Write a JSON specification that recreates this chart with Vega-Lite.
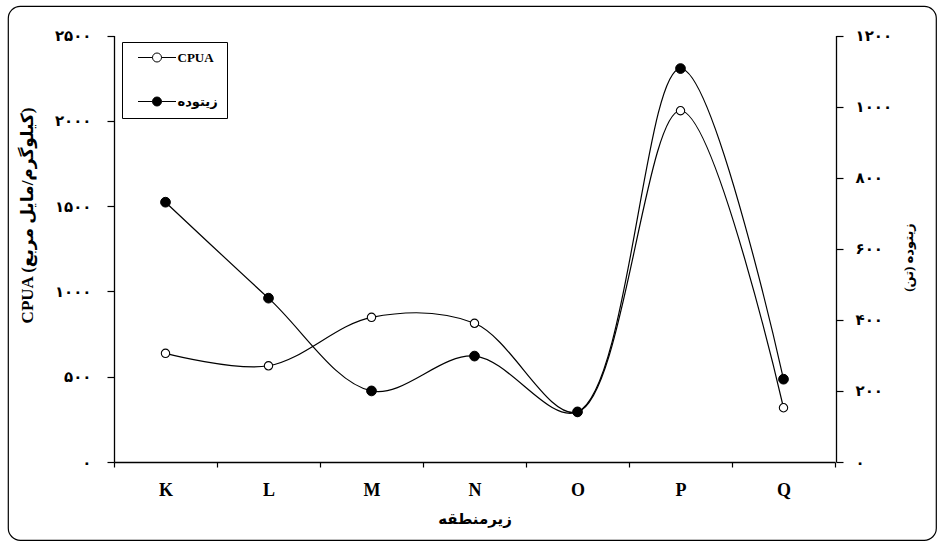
{
  "$schema": "https://vega.github.io/schema/vega-lite/v6.json",
  "width": 928,
  "height": 534,
  "autosize": {"type": "none"},
  "padding": {"left": 8, "top": 6, "right": 3, "bottom": 5},
  "background": "white",
  "config": {
    "view": {"stroke": "black", "strokeWidth": 1.2, "cornerRadius": 12},
    "axis": {
      "grid": false,
      "domainColor": "black",
      "domainWidth": 1.3,
      "tickColor": "black",
      "tickWidth": 1.2,
      "labelColor": "black",
      "titleColor": "black",
      "labelFont": "DejaVu Sans",
      "labelFontWeight": "bold",
      "titleFont": "Liberation Serif, DejaVu Sans",
      "titleFontWeight": "bold",
      "titleFontSize": 14
    },
    "legend": {
      "labelFont": "Liberation Serif, DejaVu Sans",
      "labelFontWeight": "bold",
      "labelFontSize": 13,
      "labelColor": "black"
    }
  },
  "data": {
    "values": [
      {"zone": "K", "cpua": 637, "biomass": 731},
      {"zone": "L", "cpua": 564, "biomass": 461},
      {"zone": "M", "cpua": 848, "biomass": 200},
      {"zone": "N", "cpua": 813, "biomass": 298},
      {"zone": "O", "cpua": 293, "biomass": 141},
      {"zone": "P", "cpua": 2059, "biomass": 1107},
      {"zone": "Q", "cpua": 318, "biomass": 233}
    ]
  },
  "encoding": {
    "x": {
      "field": "zone",
      "type": "nominal",
      "sort": null,
      "scale": {"type": "band", "range": [106, 827], "paddingInner": 0, "paddingOuter": 0},
      "axis": {
        "orient": "bottom",
        "offset": -78,
        "title": "زیرمنطقه",
        "titleFontSize": 15,
        "titlePadding": 12,
        "labelAngle": 0,
        "labelFont": "Liberation Serif",
        "labelFontSize": 18,
        "labelPadding": 14,
        "tickSize": 5,
        "tickBand": "extent"
      }
    }
  },
  "layer": [
    {
      "encoding": {
        "y": {
          "field": "cpua",
          "type": "quantitative",
          "scale": {"domain": [0, 2500], "range": [456, 29.5], "nice": false, "zero": true},
          "axis": {
            "orient": "left",
            "offset": -106,
            "values": [0, 500, 1000, 1500, 2000, 2500],
            "format": "d",
            "labelExpr": "replace(replace(replace(replace(replace(replace(replace(replace(replace(replace(datum.label,regexp('0','g'),'۰'),regexp('1','g'),'۱'),regexp('2','g'),'۲'),regexp('3','g'),'۳'),regexp('4','g'),'۴'),regexp('5','g'),'۵'),regexp('6','g'),'۶'),regexp('7','g'),'۷'),regexp('8','g'),'۸'),regexp('9','g'),'۹')",
            "labelFontSize": 15,
            "labelPadding": 16,
            "tickSize": 7,
            "title": "CPUA (کیلوگرم/مایل مربع)",
            "titleFontSize": 17,
            "titleY": 209,
            "titlePadding": 18
          }
        }
      },
      "layer": [
        {
          "mark": {"type": "line", "interpolate": "catmull-rom", "color": "black", "strokeWidth": 1.2}
        },
        {
          "mark": {"type": "point", "shape": "circle", "size": 70, "stroke": "black", "strokeWidth": 1.1, "opacity": 1},
          "encoding": {
            "fill": {
              "datum": "CPUA",
              "scale": {"domain": ["CPUA", "زیتوده"], "range": ["white", "black"]},
              "legend": {
                "title": null,
                "orient": "none",
                "legendX": 114,
                "legendY": 36,
                "padding": 9,
                "rowPadding": 30,
                "fillColor": "white",
                "strokeColor": "black",
                "symbolType": "M-3.8,0H-0.9M0.9,0H3.8M0.9,0A0.9,0.9,0,1,1,-0.9,0A0.9,0.9,0,1,1,0.9,0Z",
                "symbolSize": 100,
                "symbolStrokeColor": "black",
                "symbolStrokeWidth": 1,
                "symbolOffset": 19.5,
                "labelOffset": 14
              }
            }
          }
        }
      ]
    },
    {
      "encoding": {
        "y": {
          "field": "biomass",
          "type": "quantitative",
          "scale": {"domain": [0, 1200], "range": [456, 29.5], "nice": false, "zero": true},
          "axis": {
            "orient": "right",
            "offset": -100,
            "values": [0, 200, 400, 600, 800, 1000, 1200],
            "format": "d",
            "labelExpr": "replace(replace(replace(replace(replace(replace(replace(replace(replace(replace(datum.label,regexp('0','g'),'۰'),regexp('1','g'),'۱'),regexp('2','g'),'۲'),regexp('3','g'),'۳'),regexp('4','g'),'۴'),regexp('5','g'),'۵'),regexp('6','g'),'۶'),regexp('7','g'),'۷'),regexp('8','g'),'۸'),regexp('9','g'),'۹')",
            "labelFontSize": 15,
            "labelPadding": 12,
            "tickSize": 7,
            "title": "زیتوده (تن)",
            "titleFontSize": 13,
            "titleAngle": 270,
            "titleY": 251,
            "titlePadding": 24
          }
        }
      },
      "layer": [
        {
          "mark": {"type": "line", "interpolate": "catmull-rom", "color": "black", "strokeWidth": 1.2}
        },
        {
          "mark": {"type": "point", "shape": "circle", "size": 95, "stroke": "black", "strokeWidth": 1, "opacity": 1},
          "encoding": {
            "fill": {"datum": "زیتوده"}
          }
        }
      ]
    }
  ],
  "resolve": {"scale": {"y": "independent"}}
}
